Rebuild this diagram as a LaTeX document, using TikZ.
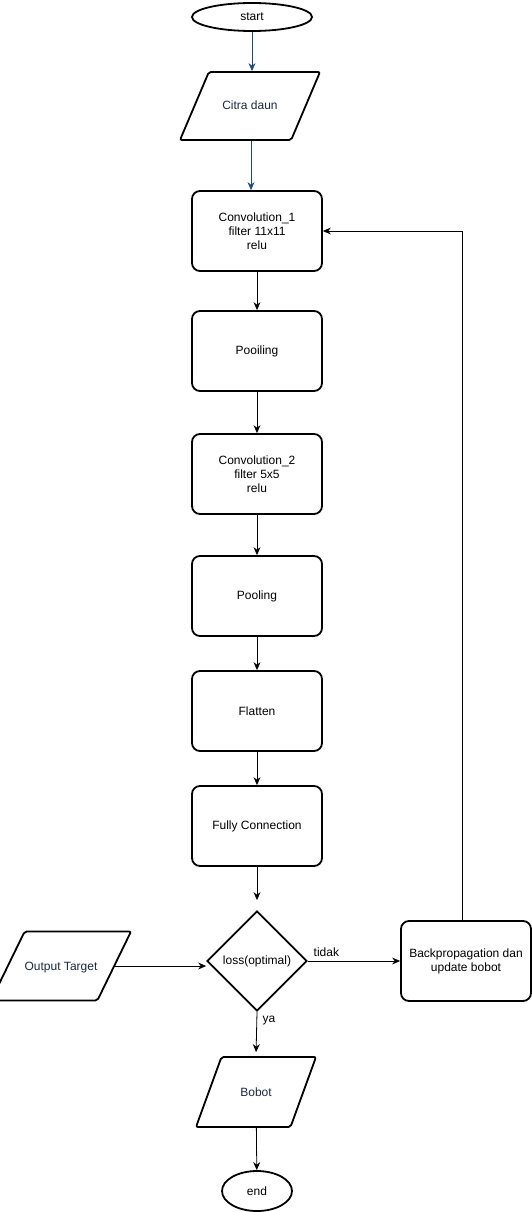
\documentclass[tikz,border=0pt]{standalone}
\usepackage{fontspec}
\setmainfont{Liberation Sans}
\usetikzlibrary{arrows.meta,shapes.geometric}
\definecolor{navy}{RGB}{31,73,125}
\definecolor{inktxt}{RGB}{25,42,66}

\tikzset{
  proc/.style={draw,line width=1.8pt,rounded corners=8pt,minimum width=130pt,minimum height=80pt,align=center,inner sep=2pt},
  term/.style={draw,line width=1.8pt,ellipse,inner sep=0pt},
  io/.style={draw,line width=1.8pt,trapezium,trapezium stretches body=true,rounded corners=2pt,inner xsep=0pt,text height=9pt,text depth=1pt,text=inktxt},
  flow/.style={-{Stealth[length=8pt,width=7pt]},line width=0.8pt},
}

\begin{document}
\begin{tikzpicture}[x=1pt,y=-1pt,font=\fontsize{12}{14}\selectfont]
    \useasboundingbox(0,0)rectangle(532,1212);
    % terminals
    \node[term,minimum width=120pt,minimum height=28pt](start)at(252,17){start};
    \node[term,minimum width=70pt,minimum height=40pt](end)at(257,1191){end};
    % input / output
    \node[io,trapezium left angle=67,trapezium right angle=113,inner ysep=29pt,minimum width=140pt](citra)at(250,106){Citra daun};
    \node[io,trapezium left angle=64,trapezium right angle=116,inner ysep=29.5pt,minimum width=118pt](target)at(61,966){Output Target};
    \node[io,trapezium left angle=70,trapezium right angle=110,inner ysep=30pt,minimum width=120pt](bobot)at(256,1092){Bobot};
    % processes
    \node[proc](conv1)at(257,231){Convolution\_1\\filter 11x11\\relu};
    \node[proc](pool1)at(257,351){Pooiling};
    \node[proc](conv2)at(257,474){Convolution\_2\\filter 5x5\\relu};
    \node[proc](pool2)at(257,596){Pooling};
    \node[proc](flat)at(257,711){Flatten};
    \node[proc](fc)at(257,826){Fully Connection};
    \node[proc](backprop)at(466,961){Backpropagation dan\\update bobot};
    \node[draw,line width=1.8pt,diamond,aspect=1,inner sep=0pt,minimum width=100pt,minimum height=100pt](loss)at(257,961){loss(optimal)};
    % connectors
    \draw[flow,navy](start.south -| 252,0)--(citra.north -| 252,0);
    \draw[flow,navy](citra.south -| 251,0)--(conv1.north -| 251,0);
    \draw[flow](conv1)--(pool1);
    \draw[flow](pool1)--(conv2);
    \draw[flow](conv2)--(pool2);
    \draw[flow](pool2)--(flat);
    \draw[flow](flat)--(fc);
    \draw[flow,shorten >=10pt](fc)--(loss);
    \draw[flow](target.east)--(target.east -| loss.west);
    \draw[flow](loss.east)--node[above,pos=0.2,yshift=1pt]{tidak}(backprop.west);
    \draw[flow,shorten >=4pt](loss.south)--node[right,pos=0.2,xshift=2pt]{ya}(bobot.north);
    \draw[flow](bobot)--(end);
    \draw[flow](backprop.north -| 462,0)|-(conv1.east);
\end{tikzpicture}
\end{document}
